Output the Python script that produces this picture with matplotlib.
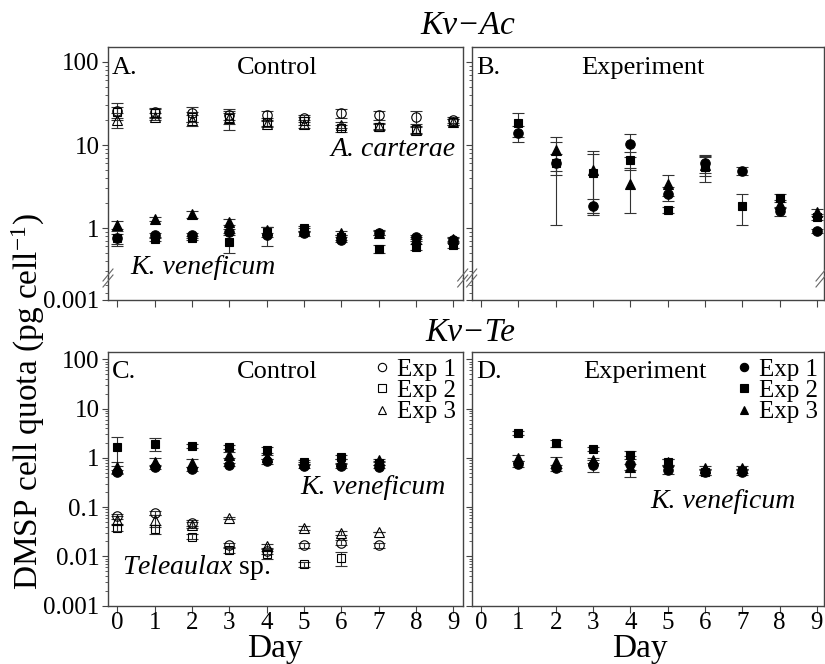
import numpy as np
import matplotlib
matplotlib.use('Agg')
import matplotlib.pyplot as plt
from matplotlib.ticker import LogLocator, FuncFormatter, NullFormatter, FixedLocator
from matplotlib.lines import Line2D

plt.rcParams['font.family'] = ['Liberation Serif', 'DejaVu Serif']
plt.rcParams['mathtext.fontset'] = 'custom'
plt.rcParams['mathtext.rm'] = 'Liberation Serif'
plt.rcParams['mathtext.it'] = 'Liberation Serif:italic'
plt.rcParams['mathtext.bf'] = 'Liberation Serif:bold'

# ---------------- data ----------------
# Panel A (Kv-Ac control): A. carterae (open) and K. veneficum (filled), days 0-9
days_A = [0, 1, 2, 3, 4, 5, 6, 7, 8, 9]
Acar_exp1 = [26, 25, 24, 23, 23, 21, 24, 23, 22, 20]
Acar_exp1_err = [6, 3, 5, 3, 3, 2, 3, 3, 4, 1.5]
Acar_exp2 = [25, 24, 22, 21, 19, 19.5, 16, 16.5, 15.5, 19]
Acar_exp2_err = [4, 3, 3, 6, 2, 2, 1.5, 1.5, 1.5, 1.5]
Acar_exp3 = [20, 22, 20, 21, 18, 18, 17.5, 17, 15, 19]
Acar_exp3_err = [4, 2, 3, 3, 1.5, 2, 1.5, 1.5, 1.5, 1.5]

KvA_exp1 = [0.76, 0.82, 0.82, 0.90, 0.82, 0.87, 0.72, 0.88, 0.78, 0.72]
KvA_exp1_err = [0.16, 0.06, 0.06, 0.08, 0.22, 0.06, 0.05, 0.06, 0.05, 0.04]
KvA_exp2 = [0.75, 0.74, 0.76, 0.68, 0.90, 1.00, 0.77, 0.56, 0.59, 0.62]
KvA_exp2_err = [0.10, 0.05, 0.05, 0.18, 0.12, 0.07, 0.05, 0.06, 0.05, 0.04]
KvA_exp3 = [1.09, 1.28, 1.47, 1.18, 0.95, 0.95, 0.87, 0.88, 0.74, 0.74]
KvA_exp3_err = [0.12, 0.07, 0.15, 0.10, 0.08, 0.06, 0.05, 0.05, 0.04, 0.04]

# Panel B (Kv-Ac experiment): K. veneficum
days_B12 = [1, 2, 3, 4, 5, 6, 7, 8, 9]
KvB_exp1 = [14, 6.1, 1.84, 10.3, 2.6, 6.1, 4.9, 1.6, 0.92]
KvB_exp1_err = [3, 1.8, 0.4, 3.2, 0.5, 1.5, 0.6, 0.2, 0.05]
KvB_exp2 = [18.4, 6.0, 4.6, 6.6, 1.65, 5.4, 1.84, 2.3, 1.36]
KvB_exp2_err = [6, 4.9, 3.1, 1.6, 0.15, 1.8, 0.75, 0.25, 0.1]
days_B3 = [2, 3, 4, 5, 6, 8, 9]
KvB_exp3 = [8.7, 5.0, 3.4, 3.4, 5.8, 1.95, 1.56]
KvB_exp3_err = [3.8, 3.5, 1.9, 1.0, 1.6, 0.2, 0.15]

# Panel C (Kv-Te control): K. veneficum (filled) and Teleaulax sp. (open), days 0-7
days_C = [0, 1, 2, 3, 4, 5, 6, 7]
KvC_exp1 = [0.52, 0.66, 0.60, 0.72, 0.85, 0.69, 0.69, 0.66]
KvC_exp1_err = [0.05, 0.06, 0.05, 0.05, 0.10, 0.06, 0.06, 0.05]
KvC_exp2 = [1.67, 1.93, 1.75, 1.67, 1.45, 0.83, 1.05, 0.80]
KvC_exp2_err = [1.0, 0.55, 0.15, 0.15, 0.20, 0.07, 0.12, 0.07]
KvC_exp3 = [0.66, 0.83, 0.79, 1.15, 1.05, 0.78, 0.85, 0.90]
KvC_exp3_err = [0.17, 0.15, 0.15, 0.15, 0.10, 0.06, 0.08, 0.07]

Te_exp1 = [0.066, 0.076, 0.048, 0.017, 0.013, 0.017, 0.019, 0.017]
Te_exp1_err = [0.008, 0.008, 0.006, 0.002, 0.002, 0.002, 0.002, 0.002]
days_Te2 = [0, 1, 2, 3, 4, 5, 6]
Te_exp2 = [0.038, 0.036, 0.025, 0.0135, 0.011, 0.007, 0.0093]
Te_exp2_err = [0.006, 0.008, 0.003, 0.002, 0.002, 0.0008, 0.003]
Te_exp3 = [0.055, 0.055, 0.044, 0.060, 0.016, 0.038, 0.030, 0.031]
Te_exp3_err = [0.010, 0.015, 0.006, 0.003, 0.002, 0.003, 0.003, 0.0]

# Panel D (Kv-Te experiment): K. veneficum, days 1-7
days_D = [1, 2, 3, 4, 5, 6, 7]
KvD_exp1 = [0.76, 0.63, 0.72, 0.76, 0.57, 0.52, 0.52]
KvD_exp1_err = [0.10, 0.08, 0.20, 0.35, 0.10, 0.08, 0.08]
KvD_exp2 = [3.2, 2.0, 1.5, 1.15, 0.83, 0.52, 0.55]
KvD_exp2_err = [0.3, 0.3, 0.15, 0.2, 0.1, 0.08, 0.05]
KvD_exp3 = [1.0, 0.83, 0.90, 0.66, 0.83, 0.63, 0.63]
KvD_exp3_err = [0.15, 0.20, 0.10, 0.10, 0.10, 0.06, 0.06]

day_ticks = [0, 1, 2, 3, 4, 5, 6, 7, 8, 9]
exp_labels = ['Exp 1', 'Exp 2', 'Exp 3']

# ---------------- layout ----------------
W, H = 825, 664
fig = plt.figure(figsize=(W / 100, H / 100), dpi=100)


def rect(left, top, right, bottom):
    return [left / W, 1 - bottom / H, (right - left) / W, (bottom - top) / H]


def fxy(px, py):
    return px / W, 1 - py / H


SPINE = '#444444'
TICKFS = 18
XL = (-0.25, 9.25)
XL_R = (-0.25, 9.19)

gfmt = FuncFormatter(lambda v, p: f'{v:g}')


def base_style(ax):
    for s in ax.spines.values():
        s.set_color(SPINE)
        s.set_linewidth(1.0)
    ax.tick_params(axis='both', which='both', direction='out', colors=SPINE,
                   labelcolor='black', labelsize=TICKFS)
    ax.tick_params(axis='y', which='major', length=4, width=0.8, pad=2)
    ax.tick_params(axis='y', which='minor', length=2.5, width=0.6)
    ax.tick_params(axis='x', which='major', length=5, width=0.8, pad=0)
    ax.tick_params(axis='x', which='minor', length=0)


def series(ax, x, y, e, marker, filled, ms=6.8):
    ax.errorbar(np.asarray(x, float), np.asarray(y, float), yerr=np.asarray(e, float),
                fmt=marker, ms=ms, mfc='black' if filled else 'none', mec='black',
                mew=0.8, ecolor='#333333', elinewidth=0.8, capsize=4.5, capthick=0.8,
                ls='none', zorder=3, clip_on=False)


def top_panel(left, right, xl, ylabels):
    main = fig.add_axes(rect(left, 47, right, 278))
    stub = fig.add_axes(rect(left, 278, right, 300), sharex=main)
    for ax in (main, stub):
        base_style(ax)
        ax.set_yscale('log')
        ax.set_xlim(*xl)
        ax.patch.set_alpha(0)
    main.set_ylim(0.2499, 151.6)
    stub.set_ylim(0.001, 0.00184)
    main.spines['bottom'].set_visible(False)
    stub.spines['top'].set_visible(False)
    main.tick_params(axis='x', which='both', bottom=False, labelbottom=False)
    stub.xaxis.set_major_locator(FixedLocator(day_ticks))
    stub.tick_params(axis='x', labelbottom=False)
    main.yaxis.set_major_locator(FixedLocator([1, 10, 100]))
    main.yaxis.set_minor_locator(LogLocator(base=10, subs=np.arange(2, 10), numticks=20))
    main.yaxis.set_major_formatter(gfmt)
    main.yaxis.set_minor_formatter(NullFormatter())
    stub.yaxis.set_major_locator(FixedLocator([0.001]))
    stub.yaxis.set_minor_locator(FixedLocator([0.0012, 0.0015]))
    stub.yaxis.set_major_formatter(gfmt)
    stub.yaxis.set_minor_formatter(NullFormatter())
    if not ylabels:
        main.tick_params(axis='y', labelleft=False)
        stub.tick_params(axis='y', labelleft=False)
    return main, stub


def bottom_panel(left, right, xl, ylabels):
    ax = fig.add_axes(rect(left, 352, right, 605.5))
    base_style(ax)
    ax.set_yscale('log')
    ax.set_xlim(*xl)
    ax.set_ylim(0.001, 142)
    ax.xaxis.set_major_locator(FixedLocator(day_ticks))
    ax.yaxis.set_major_locator(FixedLocator([0.001, 0.01, 0.1, 1, 10, 100]))
    ax.yaxis.set_minor_locator(LogLocator(base=10, subs=np.arange(2, 10), numticks=20))
    ax.yaxis.set_major_formatter(gfmt)
    ax.yaxis.set_minor_formatter(NullFormatter())
    if not ylabels:
        ax.tick_params(axis='y', labelleft=False)
    return ax


A_main, A_stub = top_panel(108, 462.7, XL, True)
B_main, B_stub = top_panel(471.7, 824, XL_R, False)
C_ax = bottom_panel(108, 462.7, XL, True)
D_ax = bottom_panel(471.7, 824, XL_R, False)

# ---- Panel A ----
series(A_main, days_A, Acar_exp1, Acar_exp1_err, 'o', False)
series(A_main, days_A, Acar_exp2, Acar_exp2_err, 's', False, 6)
series(A_main, days_A, Acar_exp3, Acar_exp3_err, '^', False)
series(A_main, days_A, KvA_exp1, KvA_exp1_err, 'o', True)
series(A_main, days_A, KvA_exp2, KvA_exp2_err, 's', True, 6.2)
series(A_main, days_A, KvA_exp3, KvA_exp3_err, '^', True)

# ---- Panel B ----
series(B_main, days_B12, KvB_exp1, KvB_exp1_err, 'o', True)
series(B_main, days_B12, KvB_exp2, KvB_exp2_err, 's', True, 6.2)
series(B_main, days_B3, KvB_exp3, KvB_exp3_err, '^', True)

# ---- Panel C ----
series(C_ax, days_C, KvC_exp1, KvC_exp1_err, 'o', True)
series(C_ax, days_C, KvC_exp2, KvC_exp2_err, 's', True, 6.2)
series(C_ax, days_C, KvC_exp3, KvC_exp3_err, '^', True)
series(C_ax, days_C, Te_exp1, Te_exp1_err, 'o', False)
series(C_ax, days_Te2, Te_exp2, Te_exp2_err, 's', False, 6)
series(C_ax, days_C, Te_exp3, Te_exp3_err, '^', False)

# ---- Panel D ----
series(D_ax, days_D, KvD_exp1, KvD_exp1_err, 'o', True)
series(D_ax, days_D, KvD_exp2, KvD_exp2_err, 's', True, 6.2)
series(D_ax, days_D, KvD_exp3, KvD_exp3_err, '^', True)

# ---- legends ----
def make_handles(filled):
    out = []
    for m in ('o', 's', '^'):
        out.append(Line2D([], [], marker=m, ls='none', ms=6 if m != 's' else 5.5,
                          mfc='black' if filled else 'none', mec='black', mew=0.8))
    return out


for ax, filled in ((C_ax, False), (D_ax, True)):
    ax.legend(make_handles(filled), exp_labels, loc='upper right', frameon=False,
              fontsize=18, handlelength=0.6, handletextpad=0.3, labelspacing=-0.05,
              borderaxespad=0.15, borderpad=0.1)

# ---- texts ----
PFS = 19
SFS = 20


def ftext(px, py, s, **kw):
    x, y = fxy(px, py)
    fig.text(x, y, s, **kw)


ftext(112, 68, 'A.', fontsize=PFS, ha='left', va='center')
ftext(277, 68, 'Control', fontsize=PFS, ha='center', va='center')
ftext(456, 150, 'A. carterae', fontsize=SFS, ha='right', va='center', style='italic')
ftext(130, 268, 'K. veneficum', fontsize=SFS, ha='left', va='center', style='italic')
ftext(476, 68, 'B.', fontsize=PFS, ha='left', va='center')
ftext(643, 68, 'Experiment', fontsize=PFS, ha='center', va='center')

ftext(112, 372, 'C.', fontsize=PFS, ha='left', va='center')
ftext(277, 372, 'Control', fontsize=PFS, ha='center', va='center')
ftext(446, 488, 'K. veneficum', fontsize=SFS, ha='right', va='center', style='italic')
ftext(122, 567, r'$\mathit{Teleaulax}$ sp.', fontsize=SFS, ha='left', va='center')
ftext(476, 372, 'D.', fontsize=PFS, ha='left', va='center')
ftext(645, 372, 'Experiment', fontsize=PFS, ha='center', va='center')
ftext(796, 502, 'K. veneficum', fontsize=SFS, ha='right', va='center', style='italic')

ftext(468, 26, 'Kv\u2212Ac', fontsize=24, ha='center', va='center', style='italic')
ftext(470, 333, 'Kv\u2212Te', fontsize=24, ha='center', va='center', style='italic')
ftext(275, 649, 'Day', fontsize=24, ha='center', va='center')
ftext(640, 649, 'Day', fontsize=24, ha='center', va='center')
ftext(28, 402, r'DMSP cell quota (pg cell$^{-1}$)', fontsize=24, ha='center',
      va='center', rotation=90)

# ---- axis break marks ----
def brk(px, py):
    for dy in (-3, 3):
        x0, y0 = fxy(px - 5, py + dy + 6)
        x1, y1 = fxy(px + 5, py + dy - 6)
        fig.add_artist(Line2D([x0, x1], [y0, y1], color='#666666', lw=0.8))


for bx in (108, 462.7, 471.7, 821):
    brk(bx, 278)

fig.savefig('out.png', dpi=100)
